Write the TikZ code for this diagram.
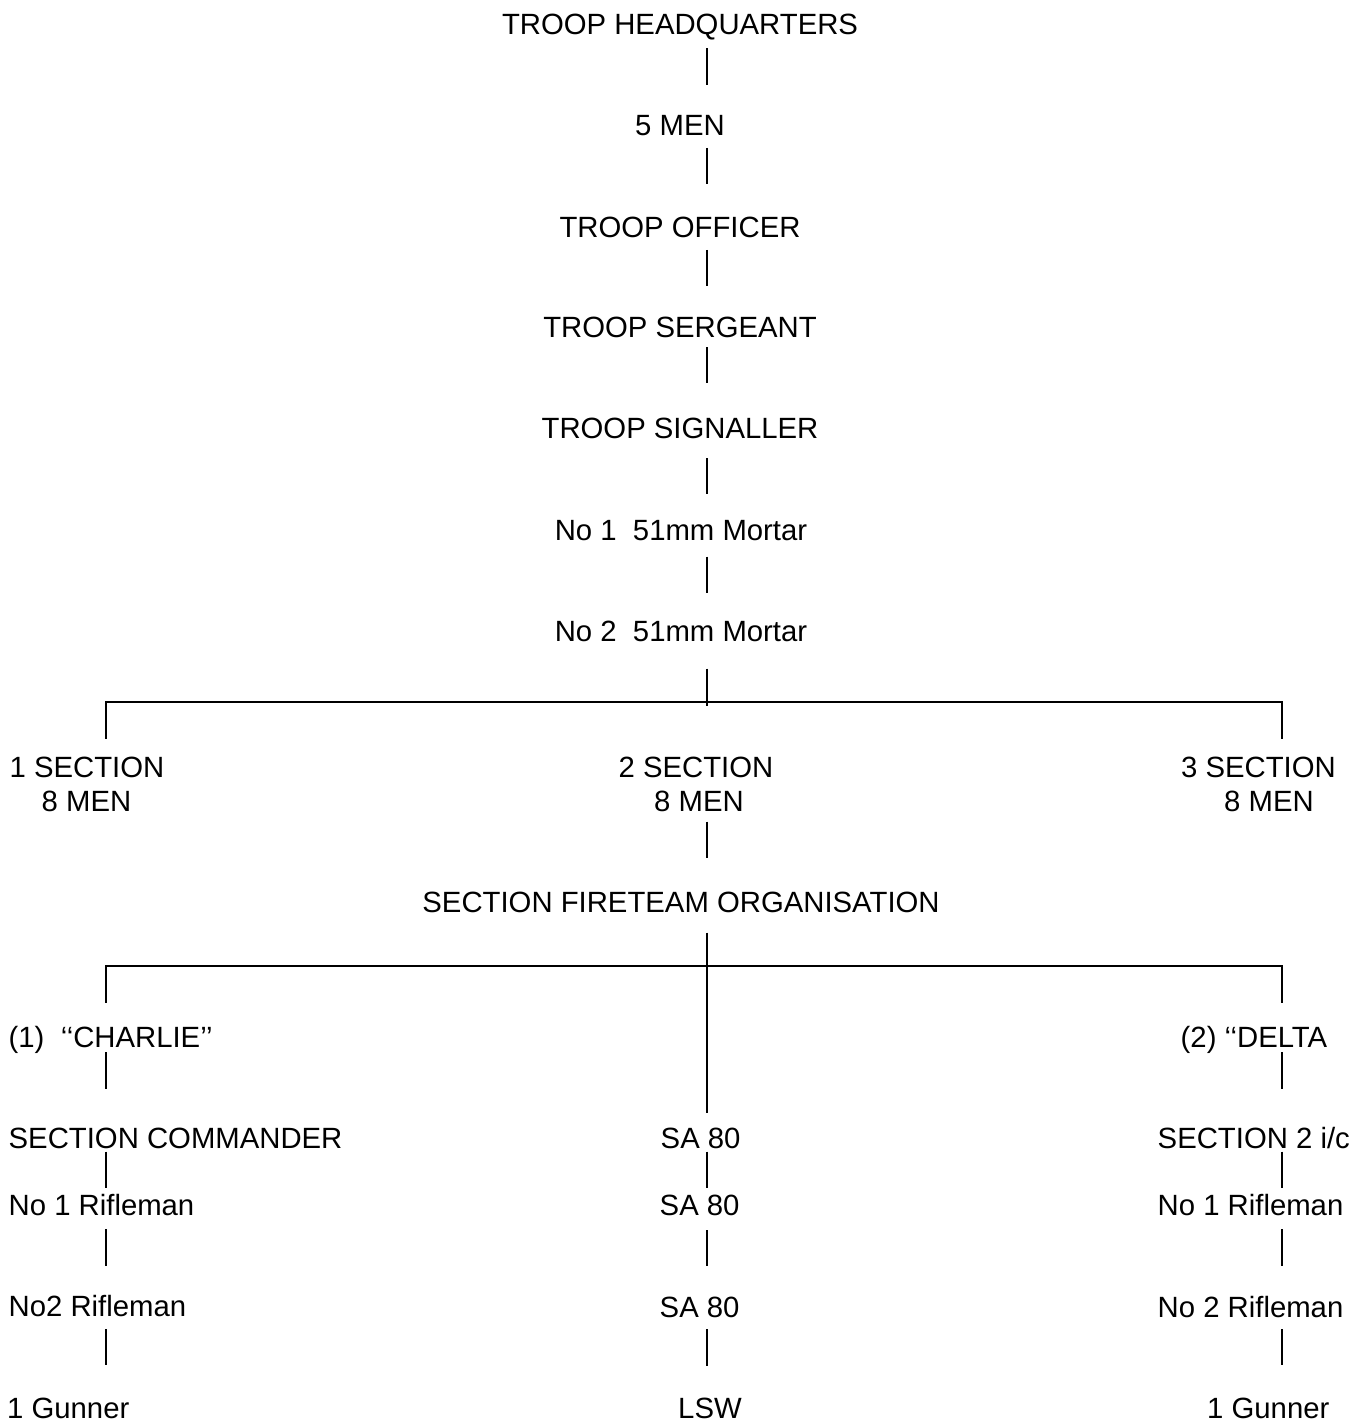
\documentclass[tikz,border=0pt]{standalone}
\usepackage{fontspec}
\setmainfont{Liberation Sans}
\usetikzlibrary{calc}
\begin{document}
\begin{tikzpicture}[x=1pt,y=-1pt,
  lbl/.style={inner sep=0pt,font=\fontsize{29.3}{34}\selectfont},
  cbase/.style={lbl,anchor=base},
  lbase/.style={lbl,anchor=base west},
  conn/.style={line width=2pt,line cap=butt}]
\useasboundingbox[fill=white] (0,0) rectangle (1365,1423);
% spine coordinates
\coordinate (spine) at (707,0);
\coordinate (lcol) at (106,0);
\coordinate (rcol) at (1282,0);
% top chain
\node[cbase] (hq)   at (680,34.5) {TROOP HEADQUARTERS};
\node[cbase] (men5) at (680,136) {5 MEN};
\node[cbase] (off)  at (680,237) {TROOP OFFICER};
\node[cbase] (sgt)  at (680,337.5) {TROOP SERGEANT};
\node[cbase] (sig)  at (680,438.5) {TROOP SIGNALLER};
\node[cbase] (mor1) at (681,540.7) {No 1\ \ 51mm Mortar};
\node[cbase] (mor2) at (681,641.7) {No 2\ \ 51mm Mortar};
\draw[conn] ($(hq.base -| spine)+(0,14)$) -- ($(men5.base -| spine)+(0,-51)$);
\draw[conn] ($(men5.base -| spine)+(0,12)$) -- ($(off.base -| spine)+(0,-53)$);
\draw[conn] ($(off.base -| spine)+(0,13)$) -- ($(sgt.base -| spine)+(0,-52)$);
\draw[conn] ($(sgt.base -| spine)+(0,9.5)$) -- ($(sig.base -| spine)+(0,-55.5)$);
\draw[conn] ($(sig.base -| spine)+(0,19.5)$) -- ($(mor1.base -| spine)+(0,-47)$);
\draw[conn] ($(mor1.base -| spine)+(0,16)$) -- ($(mor2.base -| spine)+(0,-48.5)$);
% first bar
\coordinate (bar1) at (707,702);
\draw[conn] ($(mor2.base -| spine)+(0,27)$) -- ($(bar1)+(0,3.5)$);
% sections
\node[cbase] (sec1)  at (87,777) {1 SECTION};
\node[cbase] (sec1m) at (86.5,811) {8 MEN};
\node[cbase] (sec2)  at (696,777) {2 SECTION};
\node[cbase] (sec2m) at (699,811) {8 MEN};
\node[cbase] (sec3)  at (1258.5,777) {3 SECTION};
\node[cbase] (sec3m) at (1269,811) {8 MEN};
\draw[conn,line cap=rect] ($(sec1.base -| lcol)+(0,-39)$) -- (bar1 -| lcol) -- (bar1 -| rcol) -- ($(sec3.base -| rcol)+(0,-39)$);
% fireteam
\node[cbase] (fire) at (681,912) {SECTION FIRETEAM ORGANISATION};
\draw[conn] ($(sec2m.base -| spine)+(0,10.7)$) -- ($(fire.base -| spine)+(0,-54)$);
% left column
\node[lbase] (charlie) at (8.5,1047.3) {(1)\ \ ‘‘CHARLIE’’};
\node[lbase] (cmdr)    at (8.5,1148.3) {SECTION COMMANDER};
\node[lbase] (lr1)     at (8.5,1215) {No 1 Rifleman};
\node[lbase] (lr2)     at (8.5,1316.7) {No2 Rifleman};
\node[lbase] (lgun)    at (7,1418) {1 Gunner};
% middle column
\node[lbase] (sa1) at (660.5,1148.3) {SA 80};
\node[lbase] (sa2) at (659.5,1215.5) {SA 80};
\node[lbase] (sa3) at (659.5,1317.5) {SA 80};
\node[lbase] (lsw) at (678,1418) {LSW};
% right column
\node[lbase] (delta) at (1180.5,1047.3) {(2) ‘‘DELTA};
\node[lbase] (s2ic)  at (1157.5,1148) {SECTION 2 i/c};
\node[lbase] (rr1)   at (1157.5,1215) {No 1 Rifleman};
\node[lbase] (rr2)   at (1157.5,1317) {No 2 Rifleman};
\node[lbase] (rgun)  at (1207,1418) {1 Gunner};
% second bar
\coordinate (bar2) at (707,965.5);
\draw[conn,line cap=rect] ($(charlie.base -| lcol)+(0,-45.5)$) -- (bar2 -| lcol) -- (bar2 -| rcol) -- ($(delta.base -| rcol)+(0,-45.5)$);
\draw[conn] ($(fire.base -| spine)+(0,20.7)$) -- ($(sa1.base -| spine)+(0,-35.3)$);
% left column connectors
\draw[conn] ($(charlie.base -| lcol)+(0,4.7)$) -- ($(cmdr.base -| lcol)+(0,-59.3)$);
\draw[conn] ($(cmdr.base -| lcol)+(0,3.4)$) -- ($(lr1.base -| lcol)+(0,-26.7)$);
\draw[conn] ($(lr1.base -| lcol)+(0,14.3)$) -- ($(lr2.base -| lcol)+(0,-50.7)$);
\draw[conn] ($(lr2.base -| lcol)+(0,12.3)$) -- ($(lgun.base -| lcol)+(0,-53)$);
% middle column connectors
\draw[conn] ($(sa1.base -| spine)+(0,3.4)$) -- ($(sa2.base -| spine)+(0,-27.2)$);
\draw[conn] ($(sa2.base -| spine)+(0,14.5)$) -- ($(sa3.base -| spine)+(0,-51.8)$);
\draw[conn] ($(sa3.base -| spine)+(0,11.5)$) -- ($(lsw.base -| spine)+(0,-52)$);
% right column connectors
\draw[conn] ($(delta.base -| rcol)+(0,4.7)$) -- ($(s2ic.base -| rcol)+(0,-59)$);
\draw[conn] ($(s2ic.base -| rcol)+(0,3.7)$) -- ($(rr1.base -| rcol)+(0,-26.7)$);
\draw[conn] ($(rr1.base -| rcol)+(0,14.3)$) -- ($(rr2.base -| rcol)+(0,-51)$);
\draw[conn] ($(rr2.base -| rcol)+(0,12)$) -- ($(rgun.base -| rcol)+(0,-53)$);
\end{tikzpicture}
\end{document}
